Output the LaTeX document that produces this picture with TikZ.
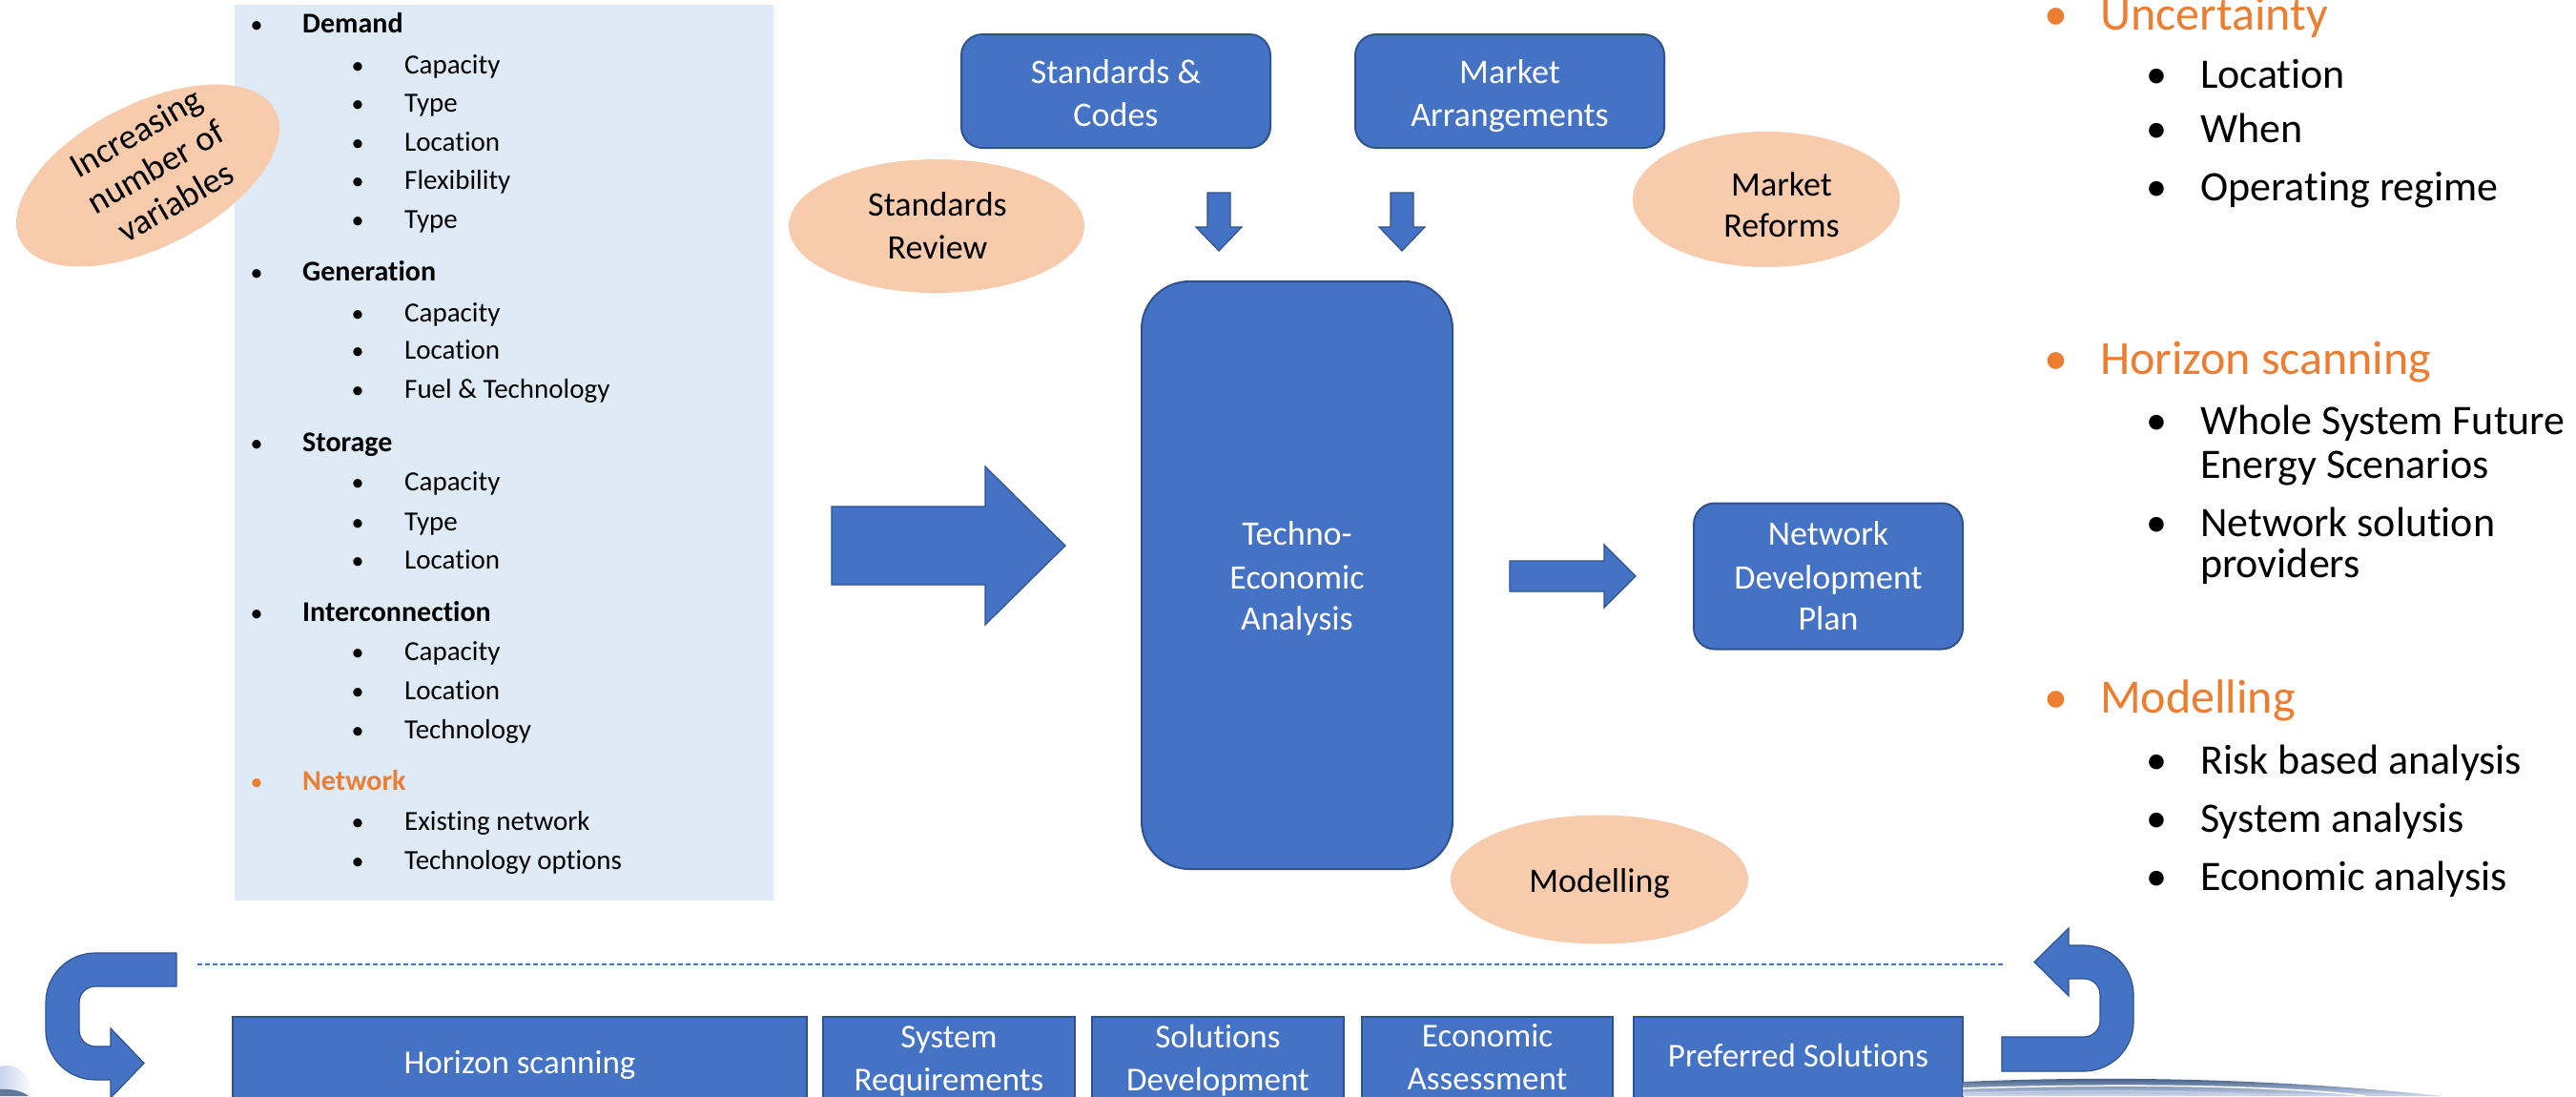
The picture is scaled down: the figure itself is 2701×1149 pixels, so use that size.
\documentclass[tikz,border=0pt]{standalone}
\usepackage{fontspec}
\setmainfont{Carlito}[Ligatures=NoCommon]
\usetikzlibrary{shapes.geometric}
\definecolor{blu}{HTML}{4472C4}
\definecolor{bludark}{HTML}{2F528F}
\definecolor{peach}{HTML}{F8CBAD}
\definecolor{panelblue}{HTML}{DEEBF7}
\definecolor{orng}{HTML}{ED7D31}
\definecolor{navy}{HTML}{1F3E6E}
\newcommand{\fsz}[1]{\fontsize{#1}{#1}\selectfont}
\begin{document}
\begin{tikzpicture}[x=1pt,y=-1pt,
  box/.style={draw=bludark,line width=2pt,fill=blu,inner sep=0pt},
  rbox/.style={box,rounded corners=22pt},
  wtxt/.style={text=white,anchor=base,inner sep=0pt,font=\fsz{36}},
  btxt/.style={text=white,anchor=base,inner sep=0pt,font=\fsz{35}},
  blob/.style={ellipse,fill=peach,inner sep=0pt},
  ktxt/.style={anchor=base,inner sep=0pt,font=\fsz{36}},
  blockarrow/.style={fill=blu,draw=bludark,line width=1.2pt},
  pone/.style={anchor=base west,inner sep=0pt,font=\fsz{30}\bfseries},
  ptwo/.style={anchor=base west,inner sep=0pt,font=\fsz{29}},
  pbul/.style={anchor=base,inner sep=0pt,font=\fsz{26}},
  rone/.style={anchor=base west,inner sep=0pt,font=\fsz{50},text=orng},
  rbul/.style={anchor=base,inner sep=0pt,font=\fsz{50},text=orng},
  rtwo/.style={anchor=base west,inner sep=0pt,font=\fsz{44}},
  rbultwo/.style={anchor=base,inner sep=0pt,font=\fsz{44}},
]
\useasboundingbox (0,0) rectangle (2701,1149);
\fill[white] (0,0) rectangle (2701,1149);

% ---------- left panel ----------
\node[fill=panelblue,minimum width=565,minimum height=939,inner sep=0pt,anchor=north west] (panel) at (246,5) {};

\foreach \yy/\lab [count=\i] in {34/Demand,294/Generation,473/Storage,651/Interconnection}{
  \node[pbul] (pb\i) at (269,\yy) {\textbullet};
  \node[pone] (ph\i) at (317,\yy) {\lab};
}
\node[pbul,text=orng] (pb5) at (269,828) {\textbullet};
\node[pone,text=orng] (ph5) at (317,828) {Network};

\foreach \yy/\lab [count=\i] in {77/Capacity,117/Type,158/Location,198/Flexibility,239/Type,
  337/Capacity,376/Location,417/Fuel \& Technology,
  514/Capacity,556/Type,596/Location,
  692/Capacity,733/Location,774/Technology,
  870/Existing network,911/Technology options}{
  \node[pbul] (qb\i) at (375,\yy) {\textbullet};
  \node[ptwo] (qi\i) at (424,\yy) {\lab};
}

% increasing ellipse
\node[blob,minimum width=300,minimum height=150,rotate=27] (incr) at (155,184) {};
\node[rotate=30,align=center,inner sep=0pt,font=\fontsize{37}{42}\selectfont] (incrtxt) at (163,175) {Increasing\\number of\\variables};

% ---------- top boxes ----------
\node[rbox,minimum width=324,minimum height=119] (std) at (1170,95.5) {};
\node[wtxt] (stdt1) at (1170,87) {Standards \&};
\node[wtxt] (stdt2) at (1170,132) {Codes};
\node[rbox,minimum width=324,minimum height=119] (mkt) at (1583,95.5) {};
\node[wtxt] (mktt1) at (1583,87) {Market};
\node[wtxt] (mktt2) at (1583,132) {Arrangements};

% ellipses
\node[blob,minimum width=310,minimum height=140] (stdrev) at (982,237) {};
\node[ktxt] (stdrev1) at (983,226) {Standards};
\node[ktxt] (stdrev2) at (983,271) {Review};
\node[blob,minimum width=280,minimum height=142] (mktref) at (1852,209) {};
\node[ktxt] (mktref1) at (1868,205) {Market};
\node[ktxt] (mktref2) at (1868,248) {Reforms};
\node[blob,minimum width=312,minimum height=135] (model) at (1677,922) {};
\node[ktxt] (modelt) at (1677,935) {Modelling};

% ---------- central boxes ----------
\node[box,rounded corners=50pt,minimum width=326,minimum height=616] (tea) at (1360,603) {};
\node[wtxt] (tea1) at (1360,571) {Techno-};
\node[wtxt] (tea2) at (1360,617) {Economic};
\node[wtxt] (tea3) at (1360,660) {Analysis};
\node[rbox,minimum width=282,minimum height=153] (ndp) at (1917,604) {};
\node[wtxt] (ndp1) at (1917,571) {Network};
\node[wtxt] (ndp2) at (1917,617) {Development};
\node[wtxt] (ndp3) at (1917,660) {Plan};

% ---------- block arrows ----------
\coordinate (bigA) at (872,572);
\draw[blockarrow] (bigA) ++(0,-41) -- ++(161,0) -- ++(0,-42) -- ++(84,83) -- ++(-84,83) -- ++(0,-42) -- ++(-161,0) -- cycle;
\coordinate (smA) at (1583,604);
\draw[blockarrow] (smA) ++(0,-16) -- ++(99,0) -- ++(0,-17) -- ++(33,33) -- ++(-33,33) -- ++(0,-17) -- ++(-99,0) -- cycle;
\coordinate (dnA) at (1278,202);
\draw[blockarrow] (dnA) ++(-12,0) -- ++(24,0) -- ++(0,36) -- ++(12,0) -- ++(-24,25) -- ++(-24,-25) -- ++(12,0) -- cycle;
\coordinate (dnB) at (1470,202);
\draw[blockarrow] (dnB) ++(-12,0) -- ++(24,0) -- ++(0,36) -- ++(12,0) -- ++(-24,25) -- ++(-24,-25) -- ++(12,0) -- cycle;

% ---------- right column ----------
\node[rbul] (rb1) at (2156,31) {\textbullet};
\node[rone] (rh1) at (2202,31) {Uncertainty};
\node[rbul] (rb2) at (2156,392) {\textbullet};
\node[rone] (rh2) at (2202,392) {Horizon scanning};
\node[rbul] (rb3) at (2156,747) {\textbullet};
\node[rone] (rh3) at (2202,747) {Modelling};
\foreach \yy/\lab [count=\i] in {92/Location,149/When,210/Operating regime,455/Whole System Future,
  562/Network solution,811/Risk based analysis,872/System analysis,933/Economic analysis}{
  \node[rbultwo] (rc\i) at (2261,\yy) {\textbullet};
  \node[rtwo] (ri\i) at (2307,\yy) {\lab};
}
\node[rtwo] (ri9) at (2307,501) {Energy Scenarios};
\node[rtwo] (ri10) at (2307,605) {providers};

% ---------- dashed separator ----------
\coordinate (dashL) at (207,1011);
\coordinate (dashR) at (2100,1011);
\draw[blu,line width=1.5pt,dash pattern=on 5pt off 3pt] (dashL) -- (dashR);

% ---------- bottom boxes ----------
\node[box,minimum width=602,minimum height=94] (hs) at (545,1113) {};
\node[btxt] (hst) at (545,1125) {Horizon scanning};
\node[box,minimum width=264,minimum height=94] (sr) at (995,1113) {};
\node[btxt] (srt1) at (995,1098) {System};
\node[btxt] (srt2) at (995,1143) {Requirements};
\node[box,minimum width=264,minimum height=94] (sd) at (1277,1113) {};
\node[btxt] (sdt1) at (1277,1098) {Solutions};
\node[btxt] (sdt2) at (1277,1143) {Development};
\node[box,minimum width=263,minimum height=94] (ea) at (1559.5,1113) {};
\node[btxt] (eat1) at (1559.5,1097) {Economic};
\node[btxt] (eat2) at (1559.5,1142) {Assessment};
\node[box,minimum width=345,minimum height=94] (ps) at (1885.5,1113) {};
\node[btxt] (pst) at (1885.5,1118) {Preferred Solutions};

% ---------- decorative swoosh ----------
\shade[top color=navy,bottom color=blu!25] (2058,1149) -- (2058,1134) .. controls (2250,1126) and (2420,1134) .. (2560,1149) -- cycle;
\draw[white,line width=1.5pt] (2058,1141) .. controls (2250,1135) and (2400,1139) .. (2480,1149);
\draw[white!70!blu,line width=1pt] (2058,1146) .. controls (2200,1142) and (2330,1144) .. (2380,1149);
\shade[left color=blu!30,right color=white] (0,1149) -- (0,1118) .. controls (15,1114) and (30,1122) .. (36,1149) -- cycle;
\fill[navy!70] (0,1149) -- (0,1142) .. controls (12,1141) and (24,1144) .. (30,1149) -- cycle;

% ---------- U-turn arrows ----------
\draw[blockarrow] (185,999) -- (100,999) arc[start angle=270,end angle=180,radius=52]
  -- (48,1080) arc[start angle=180,end angle=90,radius=52]
  -- (116,1132) -- (116,1151) -- (151,1114.5) -- (116,1078) -- (116,1097) -- (100,1097)
  arc[start angle=90,end angle=180,radius=17] -- (83,1051)
  arc[start angle=180,end angle=270,radius=17] -- (185,1034) -- cycle;
\draw[blockarrow] (2133,1008.5) -- (2169,973) -- (2169,991) -- (2185,991)
  arc[start angle=270,end angle=360,radius=52] -- (2237,1071)
  arc[start angle=0,end angle=90,radius=52] -- (2099,1123) -- (2099,1087) -- (2185,1087)
  arc[start angle=90,end angle=0,radius=17] -- (2202,1043)
  arc[start angle=0,end angle=-90,radius=17] -- (2169,1026) -- (2169,1044) -- cycle;
\end{tikzpicture}
\end{document}
